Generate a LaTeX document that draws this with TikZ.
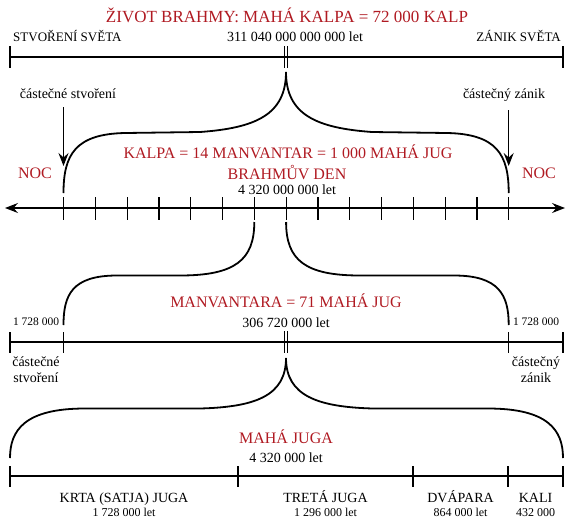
\documentclass[tikz,border=0pt]{standalone}
\usepackage{fontspec}
\setmainfont{Liberation Serif}
\usetikzlibrary{positioning,arrows.meta}
\definecolor{brahmared}{RGB}{176,26,34}

\begin{document}
\begin{tikzpicture}[x=1pt,y=-1pt]
\tikzset{
    redlbl/.style={text=brahmared, font=\fontsize{16}{18}\selectfont, anchor=base, inner sep=0pt},
    yearlbl/.style={font=\fontsize{14}{16}\selectfont, anchor=base, inner sep=0pt},
    toplbl/.style={font=\fontsize{13}{15}\selectfont, anchor=base, inner sep=0pt},
    numlbl/.style={font=\fontsize{12}{14}\selectfont, anchor=base, inner sep=0pt},
    timeline/.style={line width=1.2pt},
    bracecurve/.style={line width=1.8pt},
    pointer/.style={line width=1.2pt, -{Stealth[length=13pt,width=10pt,inset=4.5pt]}}
}
\useasboundingbox (0,0) rectangle (570,523);

% zivot brahmy
\node[redlbl, font=\fontsize{17}{19}\selectfont] (title) at (287,22) {ŽIVOT BRAHMY: MAHÁ KALPA = 72 000 KALP};
\node[toplbl, anchor=base west] (creation) at (13,41) {STVOŘENÍ SVĚTA};
\node[toplbl, anchor=base east] (destruction) at (561,41) {ZÁNIK SVĚTA};
\node[yearlbl] (lifespan) at (295,41) {311 040 000 000 000 let};
\coordinate (lifeL) at (10,57);
\coordinate (lifeR) at (563,57);
\draw[timeline] (lifeL) -- (lifeR);
\foreach \x in {10,563} \draw[timeline] (\x,46) -- (\x,68);
\foreach \x in {284,287.5} \draw[line width=1pt] (\x,46) -- (\x,68);

% kalpa
\coordinate (kalpatip) at (286,72);
\draw[bracecurve] (kalpatip) .. controls (286,115) and (255,128) .. (200,132) -- (125,133) .. controls (75,134) and (63.5,155) .. (63.5,193);
\draw[bracecurve] (kalpatip) .. controls (286,115) and (317,128) .. (372,132) -- (447,133) .. controls (497,134) and (508.7,155) .. (508.7,193);
\node[yearlbl] (partcreate) at (68,98) {částečné stvoření};
\node[yearlbl] (partend) at (504,98) {částečný zánik};
\coordinate (arrowL) at (63.5,166);
\coordinate (arrowR) at (508.7,166);
\draw[pointer, shorten <=9pt] (partcreate.south -| arrowL) -- (arrowL);
\draw[pointer, shorten <=9pt] (partend.south -| arrowR) -- (arrowR);
\node[redlbl] (nightL) at (35,178) {NOC};
\node[redlbl] (nightR) at (539,178) {NOC};
\node[redlbl] (kalpa) at (288,158) {KALPA = 14 MANVANTAR = 1 000 MAHÁ JUG};
\node[redlbl] (brahmaday) at (287,179) {BRAHMŮV DEN};
\node[yearlbl] (daylen) at (287,194) {4 320 000 000 let};
\coordinate (axisL) at (5,208);
\coordinate (axisR) at (565,208);
\draw[timeline, {Stealth[length=13pt,width=10pt,inset=4.5pt]}-{Stealth[length=13pt,width=10pt,inset=4.5pt]}] (axisL) -- (axisR);
\foreach \i in {0,...,14} \draw[timeline] ({63.5+\i*31.8},197) -- ({63.5+\i*31.8},220);

% manvantara
\draw[bracecurve] (254.3,222) .. controls (254.3,260) and (235,275.5) .. (180,275.5) -- (117,275.5) .. controls (72,275.5) and (63.5,295) .. (63.5,325);
\draw[bracecurve] (286.1,222) .. controls (286.1,260) and (305,275.5) .. (360,275.5) -- (454,275.5) .. controls (499,275.5) and (508.7,295) .. (508.7,325);
\node[redlbl] (manvantara) at (286,307) {MANVANTARA = 71 MAHÁ JUG};
\node[yearlbl] (manvlen) at (286,327) {306 720 000 let};
\node[numlbl, font=\fontsize{11.5}{13}\selectfont] (sandhiL) at (36,325) {1 728 000};
\node[numlbl, font=\fontsize{11.5}{13}\selectfont] (sandhiR) at (536,325) {1 728 000};
\coordinate (manvL) at (10,342);
\coordinate (manvR) at (563,342);
\draw[timeline] (manvL) -- (manvR);
\foreach \x in {10,63.5,508.7,563} \draw[timeline] (\x,332) -- (\x,353);
\foreach \x in {284,287.5} \draw[line width=1pt] (\x,331) -- (\x,353);
\node[yearlbl] (pcreateA) at (36,366) {částečné};
\node[yearlbl] (pcreateB) at (36,382) {stvoření};
\node[yearlbl] (pendA) at (536,366) {částečný};
\node[yearlbl] (pendB) at (536,382) {zánik};

% maha juga
\coordinate (jugatip) at (286,358);
\draw[bracecurve] (jugatip) .. controls (286,396) and (255,407) .. (200,408.5) -- (85,408.5) .. controls (25,408.5) and (10,430) .. (10,458);
\draw[bracecurve] (jugatip) .. controls (286,396) and (318,407) .. (373,408.5) -- (488,408.5) .. controls (548,408.5) and (563,430) .. (563,458);
\node[redlbl] (mahajuga) at (286,443) {MAHÁ JUGA};
\node[yearlbl] (jugalen) at (286,462) {4 320 000 let};
\coordinate (jugaL) at (10,476);
\coordinate (jugaR) at (563,476);
\draw[timeline] (jugaL) -- (jugaR);
\foreach \x in {10,238,413,508,563} \draw[timeline] (\x,466) -- (\x,487);
\node[yearlbl] (krta) at (124,502) {KRTA (SATJA) JUGA};
\node[numlbl] (krtalen) at (124,516) {1 728 000 let};
\node[yearlbl] (treta) at (325.5,502) {TRETÁ JUGA};
\node[numlbl] (tretalen) at (325.5,516) {1 296 000 let};
\node[yearlbl] (dvapara) at (460.5,502) {DVÁPARA};
\node[numlbl] (dvaparalen) at (460.5,516) {864 000 let};
\node[yearlbl] (kali) at (535.5,502) {KALI};
\node[numlbl] (kalilen) at (535.5,516) {432 000};
\end{tikzpicture}
\end{document}
